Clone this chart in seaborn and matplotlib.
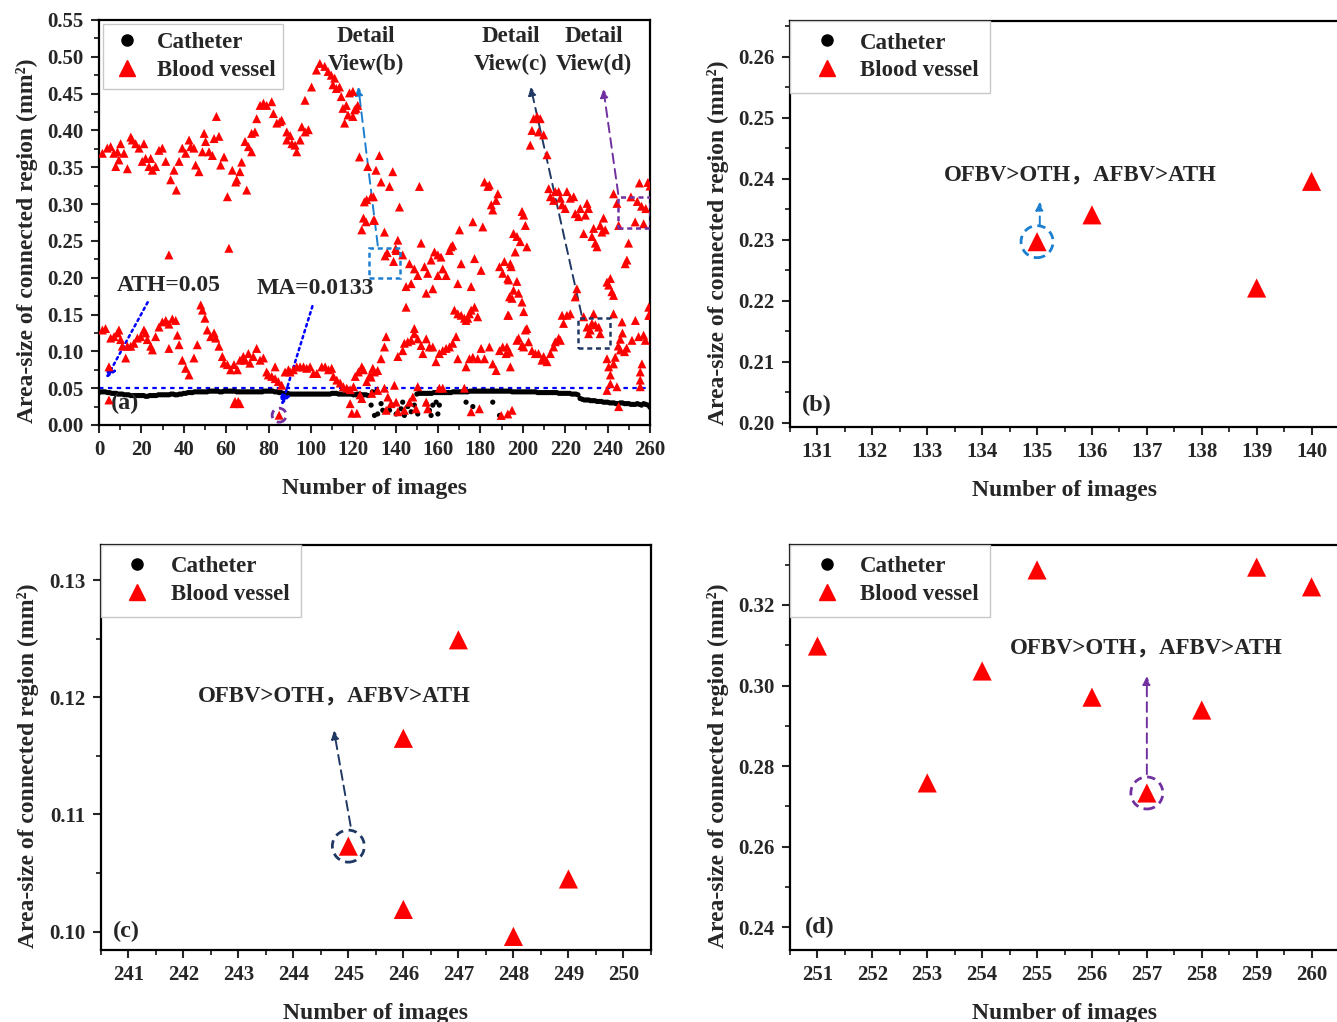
import matplotlib
matplotlib.use("Agg")
import numpy as np
import pandas as pd
import seaborn as sns
import matplotlib.pyplot as plt
from matplotlib.lines import Line2D
from matplotlib.patches import Circle, Rectangle
from matplotlib.transforms import ScaledTranslation
from matplotlib.ticker import MultipleLocator, FormatStrFormatter

# ------------------------------------------------------------------ data
# Catheter (one value per frame, panel a)
cath_frames_1 = list(range(0, 128))
cath_area_1 = [
    0.044, 0.045, 0.045, 0.045, 0.044, 0.044, 0.043, 0.043, 0.043, 0.042,
    0.042, 0.042, 0.041, 0.041, 0.041, 0.040, 0.040, 0.040, 0.040, 0.040,
    0.040, 0.040, 0.039, 0.039, 0.040, 0.040, 0.040, 0.040, 0.041, 0.041,
    0.041, 0.041, 0.041, 0.041, 0.042, 0.042, 0.041, 0.041, 0.042, 0.042,
    0.043, 0.043, 0.044, 0.044, 0.044, 0.045, 0.045, 0.045, 0.045, 0.045,
    0.045, 0.045, 0.046, 0.046, 0.046, 0.046, 0.046, 0.045, 0.045, 0.046,
    0.046, 0.046, 0.046, 0.046, 0.046, 0.045, 0.045, 0.045, 0.045, 0.045,
    0.045, 0.045, 0.045, 0.045, 0.045, 0.045, 0.045, 0.045, 0.046, 0.046,
    0.046, 0.046, 0.046, 0.045, 0.045, 0.044, 0.044, 0.043, 0.043, 0.043,
    0.042, 0.042, 0.042, 0.042, 0.042, 0.042, 0.042, 0.042, 0.042, 0.042,
    0.042, 0.042, 0.042, 0.042, 0.042, 0.042, 0.042, 0.042, 0.042, 0.042,
    0.043, 0.043, 0.043, 0.042, 0.042, 0.042, 0.042, 0.042, 0.042, 0.042,
    0.041, 0.041, 0.042, 0.042, 0.041, 0.041, 0.041, 0.040,
]
cath_frames_2 = list(range(150, 261))
cath_area_2 = [
    0.042, 0.043, 0.043, 0.043, 0.043, 0.043, 0.043, 0.043, 0.044, 0.044,
    0.044, 0.044, 0.044, 0.044, 0.044, 0.044, 0.044, 0.045, 0.045, 0.045,
    0.045, 0.045, 0.045, 0.045, 0.045, 0.046, 0.046, 0.046, 0.046, 0.046,
    0.046, 0.046, 0.046, 0.046, 0.046, 0.046, 0.046, 0.046, 0.046, 0.046,
    0.046, 0.046, 0.046, 0.046, 0.046, 0.045, 0.045, 0.045, 0.045, 0.045,
    0.045, 0.045, 0.045, 0.045, 0.045, 0.045, 0.045, 0.044, 0.044, 0.044,
    0.044, 0.044, 0.044, 0.044, 0.044, 0.044, 0.044, 0.043, 0.043, 0.043,
    0.043, 0.043, 0.043, 0.042, 0.042, 0.042, 0.041, 0.036, 0.035, 0.034,
    0.034, 0.034, 0.033, 0.033, 0.033, 0.032, 0.032, 0.032, 0.031, 0.031,
    0.031, 0.030, 0.030, 0.030, 0.029, 0.029, 0.030, 0.030, 0.029, 0.029,
    0.029, 0.028, 0.028, 0.028, 0.029, 0.028, 0.027, 0.029, 0.028, 0.027,
    0.024,
]
cath_extra = [
    (128.4, .027), (129, .045), (130, .013), (131, .046), (131.5, .015),
    (133.1, .029), (133.9, .020), (137.1, .020), (138.6, .027), (140.2, .015),
    (142.5, .022), (143.3, .031), (144.1, .013), (145.7, .025), (147.3, .018),
    (148.8, .027), (150.4, .015), (154.4, .029), (155.9, .020), (156.7, .013),
    (157.5, .027), (159.1, .031), (159.9, .015), (160.6, .027), (173.2, .031),
    (176.4, .025), (185.8, .031), (189, .013),
]

# Blood vessel regions, panel a
vessel_upper = [
    (1.6, .369), (3.9, .376), (5.5, .378), (7, .369), (7.9, .351), (8.7, .371),
    (9.4, .360), (10.2, .382), (11.8, .369), (13.4, .348), (15, .391), (15.7, .387),
    (17.3, .382), (18.9, .376), (20.4, .358), (21.2, .382), (22, .362), (23.6, .351),
    (24.4, .362), (25.2, .346), (26.7, .351), (28.3, .373), (29.9, .376), (31.5, .358),
    (33.8, .333), (35.4, .346), (36.5, .319), (37.8, .358), (39.3, .376), (40.9, .369),
    (42.5, .387), (43.3, .378), (44.8, .376), (45.6, .353), (47.2, .344), (48.8, .371),
    (49.6, .396), (50.3, .385), (51.9, .371), (53.5, .366), (54.3, .389), (55.4, .419),
    (56.6, .392), (57.4, .353), (59, .364), (60.6, .310), (62.9, .346), (64.5, .330),
    (65, .333), (66.5, .344), (67.3, .357), (69.7, .319), (68.9, .385), (70.5, .378),
    (72, .396), (72, .371), (73.6, .398), (74.4, .416), (76, .434), (77.6, .437),
    (79.1, .434), (81.5, .439), (82.3, .423), (83.9, .410), (85.4, .412), (86.2, .414),
    (88.6, .398), (88.6, .387), (90.2, .393), (91, .382), (92.5, .380), (93.3, .371),
    (94.9, .387), (95.7, .405), (97.3, .398), (98.8, .401), (97.2, .441), (100.3, .459),
    (102.6, .482), (104.2, .491), (106.5, .487), (108.1, .480), (109.6, .475),
    (111.2, .471), (110.4, .462), (112, .457), (113.5, .459), (114.3, .446),
    (115.1, .430), (116.7, .434), (117.5, .421), (118.2, .451), (119.8, .453),
    (115.9, .410), (120.6, .428), (121.3, .430), (119.8, .419), (122.1, .434),
    (122.9, .364), (126.8, .351), (128.4, .310), (132.3, .366), (130.7, .346),
    (133.1, .330), (125.2, .303), (126, .276), (130, .278), (124, .265), (124.8, .281),
    (126.3, .306), (129.5, .310), (129.5, .278), (137.1, .324), (138.6, .344),
    (134.7, .262), (141.8, .296), (141, .251), (143.3, .231), (140.2, .237),
]
vessel_middle = [
    (151.2, .324), (146.5, .219), (148.8, .212), (150.4, .203), (147.3, .192),
    (144.9, .188), (144.9, .160), (152, .247), (153.6, .215), (155.1, .206),
    (154.4, .179), (156.7, .224), (157.5, .185), (158.3, .235), (159.9, .231),
    (161.4, .228), (159.9, .203), (162.2, .212), (163.8, .203), (165.4, .237),
    (166.1, .242), (166.9, .244), (169.3, .192), (170.1, .265), (170.9, .219),
    (175.6, .188), (176.4, .276), (177.2, .226), (180.3, .210), (181.1, .269),
    (181.9, .330), (183.5, .324), (184.2, .326), (185.1, .299), (185.8, .292),
    (187.4, .305), (188.2, .314), (189, .215), (190.5, .206), (191.3, .222),
    (192.9, .199), (193.7, .174), (192.9, .149), (194.5, .215), (167.7, .156),
    (169.3, .151), (170.9, .149), (172.4, .145), (174, .145), (174.8, .151),
    (175.6, .156), (177.2, .160), (178.7, .147), (173.2, .142), (199.6, .290),
    (200.4, .285), (201.2, .271), (195.6, .260), (197.2, .256), (198.8, .249),
    (201.9, .242), (196.4, .235), (194.1, .219), (193.3, .197), (197.2, .195),
    (195.6, .183), (198, .179), (194.9, .172), (199.6, .167), (200.4, .154),
    (193.3, .149), (203.5, .380), (204.3, .400), (205.1, .416), (206.7, .419),
    (208.2, .416), (207.4, .398), (209.8, .394), (211.4, .367), (212.2, .321),
    (213, .310), (214.5, .305), (215.3, .317), (216.9, .317), (217.7, .308),
    (218.5, .299), (220, .294), (220.8, .317), (222.4, .308), (224, .310),
    (224.7, .287), (226.3, .283), (227.1, .294), (229.5, .285), (230.3, .301),
    (231, .294), (228.7, .260), (232.6, .256), (233.4, .267), (234.2, .247),
    (235, .242), (236.5, .271), (238.1, .281), (237.3, .262), (238.9, .265),
    (242.8, .314), (244.4, .301), (245.2, .271), (249.9, .247), (248.3, .219),
    (249.1, .224), (239.7, .194), (241.3, .199), (242, .181), (242.8, .176),
    (240.5, .190), (225.5, .185), (224.7, .174), (259.4, .160), (260, .149),
]
vessel_lower = [
    (1.6, .129), (3.1, .131), (4.7, .079), (5.5, .118), (7.1, .120), (8.7, .125),
    (9.4, .129), (10.2, .116), (11, .107), (12.6, .091), (13.4, .107), (15, .107),
    (16.5, .111), (18.1, .118), (19.7, .120), (21.2, .129), (22, .125), (22.8, .116),
    (24.4, .107), (25.2, .102), (26.7, .120), (28.3, .133), (29.9, .140), (31.5, .142),
    (33, .137), (34.6, .144), (36.2, .142), (37, .122), (37.8, .109), (33, .104),
    (39.3, .088), (40.9, .077), (42.5, .068), (44.8, .091), (46.4, .109), (48, .163),
    (48.8, .156), (50, .145), (51.1, .129), (52.7, .120), (54.3, .125), (55.1, .118),
    (56.6, .107), (58.2, .093), (59, .084), (60.6, .082), (62.1, .075), (63.7, .082),
    (65.3, .075), (66.5, .088), (68.1, .093), (68.9, .088), (70.5, .097), (71.2, .084),
    (72.8, .093), (74.4, .104), (76, .088), (77.6, .091), (79.1, .072), (79.9, .068),
    (81.5, .066), (83.1, .063), (84.6, .059), (83.1, .079), (86.2, .054), (87.8, .072),
    (89.4, .075), (90.2, .072), (91.7, .075), (93.3, .079), (94.9, .079), (96.5, .079),
    (98, .077), (99.6, .079), (101.2, .070), (102.8, .070), (105.1, .079), (106.7, .079),
    (108.3, .075), (109.8, .077), (110.6, .066), (112.2, .061), (113.8, .057),
    (115.3, .052), (116.9, .050), (118.5, .048), (120.1, .052), (120.9, .066),
    (122.4, .072), (124, .079), (124.8, .075), (126.3, .059), (127.9, .068),
    (129.2, .077), (128.4, .065), (130, .072), (131.5, .074), (133.1, .090),
    (134.7, .106), (135.5, .120), (141, .093), (143.3, .101), (144.1, .111),
    (145.7, .113), (147.3, .115), (148.8, .131), (148.8, .124), (150.4, .117),
    (152, .108), (152.8, .097), (154.4, .117), (155.9, .106), (157.5, .106),
    (159, .086), (160.6, .097), (162.2, .101), (163.8, .104), (165.4, .106),
    (166.9, .111), (168.5, .120), (169.3, .090), (173.2, .079), (174.8, .090),
    (176.4, .092), (178.7, .090), (180.3, .104), (181.9, .090), (184.2, .106),
    (185.8, .083), (187.4, .074), (189, .101), (190.5, .106), (192.1, .097),
    (193.7, .099), (192.5, .106), (194.1, .079), (197.2, .115), (198, .118),
    (199.6, .108), (200.4, .106), (201.2, .129), (201.9, .131), (202.7, .113),
    (204.3, .101), (205.9, .097), (207.4, .097), (209, .088), (209.8, .093),
    (211.4, .086), (213, .097), (214.5, .106), (215.3, .113), (216.9, .118),
    (217.7, .115), (218.5, .149), (219.2, .138), (220.8, .149), (222.4, .151),
    (228.7, .147), (230.3, .133), (231.8, .129), (233.4, .151), (234.2, .136),
    (235.8, .133), (236.5, .124), (231, .124), (232.6, .138), (239.7, .090),
    (240.5, .079), (241.3, .068), (241.3, .056), (243.6, .092), (242.8, .083),
    (242.8, .151), (246.8, .140), (253.1, .142), (254.6, .120), (257, .122),
    (257.8, .115), (259.4, .149), (256.2, .083), (255.4, .072), (251.5, .115),
]
vessel_outliers = [
    (33, .231), (61.3, .240), (4.7, .034), (63.7, .029), (64.2, .032), (65.7, .032),
    (66.5, .029), (85, .0133), (118.5, .029), (119.3, .016), (121.7, .016),
    (123.2, .041), (124, .036), (128.7, .043), (131.5, .047), (134.7, .050),
    (136.3, .038), (137.8, .029), (140.2, .031), (135.5, .020), (141, .018),
    (144.1, .020), (146.5, .031), (148.1, .038), (149.6, .022), (150.4, .052),
    (154.4, .031), (155.1, .022), (139.4, .054), (160.6, .050), (162.2, .050),
    (172.4, .050), (175.6, .018), (179.5, .022), (189.8, .013), (192.9, .015),
    (194.9, .020), (239.7, .047), (244.4, .052), (245.2, .025), (255.4, .052),
    (255.4, .061),
]

# Detail views (b), (c), (d)
detail_b_x = [135, 136, 139, 140]
detail_b_y = [0.2297, 0.2341, 0.2221, 0.2396]
detail_c_x = [245, 246, 246, 247, 248, 249]
detail_c_y = [0.1073, 0.1165, 0.1019, 0.1249, 0.0996, 0.1045]
detail_d_x = [251, 253, 254, 255, 256, 257, 258, 259, 260]
detail_d_y = [0.3098, 0.2758, 0.3036, 0.3287, 0.2971, 0.2733, 0.2939, 0.3294, 0.3245]

ATH = 0.05
MA = 0.0133

# ------------------------------------------------------------------ style
sns.set_style("ticks")
plt.rcParams["font.family"] = ["Liberation Serif", "Noto Sans CJK SC", "DejaVu Sans"]
plt.rcParams["font.weight"] = "bold"
plt.rcParams["axes.labelweight"] = "bold"
plt.rcParams["axes.linewidth"] = 1.6
plt.rcParams["axes.edgecolor"] = "black"

RED = "#ff0000"
fig = plt.figure(figsize=(13.37, 10.22), dpi=100)
W, H = 1337.0, 1022.0


def add_ax(l, t, r, b):
    return fig.add_axes([l / W, 1 - b / H, (r - l) / W, (b - t) / H])


ax_a = add_ax(99, 20, 650, 425)
ax_b = add_ax(790, 21, 1339, 427)
ax_c = add_ax(100.7, 545, 651, 950)
ax_d = add_ax(790, 545, 1339, 950)

# ------------------------------------------------------------------ panel a
cath_df = pd.DataFrame({
    "frame": cath_frames_1 + cath_frames_2 + [p[0] for p in cath_extra],
    "area": cath_area_1 + cath_area_2 + [p[1] for p in cath_extra],
})
all_vessel = vessel_upper + vessel_middle + vessel_lower + vessel_outliers
vessel_df = pd.DataFrame({
    "frame": [p[0] for p in all_vessel] + detail_b_x + detail_c_x + detail_d_x,
    "area": [p[1] for p in all_vessel] + detail_b_y + detail_c_y + detail_d_y,
})

sns.scatterplot(data=cath_df, x="frame", y="area", ax=ax_a, color="black",
                marker="o", s=14, edgecolor="none", legend=False, zorder=3)
sns.scatterplot(data=vessel_df, x="frame", y="area", ax=ax_a, color=RED,
                marker="^", s=42, edgecolor="none", legend=False, zorder=4)

ax_a.axhline(ATH, color="#0000ff", ls=(0, (2, 2)), lw=1.6, zorder=2)
ax_a.set_xlim(0, 260)
ax_a.set_ylim(0, 0.55)
ax_a.xaxis.set_major_locator(MultipleLocator(20))
ax_a.xaxis.set_minor_locator(MultipleLocator(10))
ax_a.yaxis.set_major_locator(MultipleLocator(0.05))
ax_a.yaxis.set_minor_locator(MultipleLocator(0.025))
ax_a.yaxis.set_major_formatter(FormatStrFormatter("%.2f"))

ax_a.text(8.5, 0.190, "ATH=0.05", fontsize=17, va="center", ha="left")
ax_a.annotate("", xy=(2.8, 0.060), xytext=(23.6, 0.170),
              arrowprops=dict(arrowstyle="-|>", ls=(0, (1, 1.5)), color="#0000ff",
                              lw=1.8, mutation_scale=14))
ax_a.text(74.6, 0.185, "MA=0.0133", fontsize=17, va="center", ha="left")
ax_a.annotate("", xy=(85.8, 0.023), xytext=(101.1, 0.165),
              arrowprops=dict(arrowstyle="-|>", ls=(0, (1, 1.5)), color="#0000ff",
                              lw=1.8, mutation_scale=14))
ax_a.text(5.5, 0.029, "(a)", fontsize=17.5, va="center", ha="left")

for cx, label in [(126, "(b)"), (194.4, "(c)"), (233.6, "(d)")]:
    ax_a.text(cx, 0.528, "Detail", fontsize=16.5, ha="center", va="center")
    ax_a.text(cx, 0.490, "View" + label, fontsize=16.5, ha="center", va="center")

# detail boxes and arrows
boxes = [
    ((127.4, 0.200), 14.6, 0.040, "#1a7fd0", (131.7, 0.240), (122.2, 0.463)),
    ((226.0, 0.105), 15.2, 0.040, "#1f3864", (228.0, 0.146), (203.4, 0.463)),
    ((245.0, 0.268), 15.0, 0.042, "#7030a0", (245.2, 0.310), (237.8, 0.460)),
]
for (x0, y0), w, h, col, tail, head in boxes:
    ax_a.add_patch(Rectangle((x0, y0), w, h, fill=False, ec=col, lw=1.8,
                             ls=(0, (2, 1.5)), zorder=5))
    ax_a.annotate("", xy=head, xytext=tail,
                  arrowprops=dict(arrowstyle="-|>", ls=(0, (5, 3)), color=col,
                                  lw=1.4, mutation_scale=12))


def dashed_circle(ax, x, y, r_px, color):
    trans = fig.dpi_scale_trans + ScaledTranslation(x, y, ax.transData)
    c = Circle((0, 0), r_px / fig.dpi, transform=trans, fill=False,
               ls=(0, (3, 2)), ec=color, lw=2, zorder=6)
    ax.add_patch(c)


dashed_circle(ax_a, 85, MA, 7, "#7030a0")

# ------------------------------------------------------------------ panels b, c, d
def detail_panel(ax, xs, ys, xlim, ylim, ymaj, ymin_, text_xy, circ_idx,
                 col, arrow, tag_xy, tag):
    df = pd.DataFrame({"frame": xs, "area": ys})
    sns.scatterplot(data=df, x="frame", y="area", ax=ax, color=RED, marker="^",
                    s=190, edgecolor="none", legend=False, zorder=4)
    ax.set_xlim(*xlim)
    ax.set_ylim(*ylim)
    ax.xaxis.set_major_locator(MultipleLocator(1))
    ax.xaxis.set_minor_locator(MultipleLocator(0.5))
    ax.yaxis.set_major_locator(MultipleLocator(ymaj))
    ax.yaxis.set_minor_locator(MultipleLocator(ymin_))
    ax.yaxis.set_major_formatter(FormatStrFormatter("%.2f"))
    ax.xaxis.set_major_formatter(FormatStrFormatter("%d"))
    ax.text(text_xy[0], text_xy[1], "OFBV>OTH，AFBV>ATH", fontsize=16.5,
            ha="left", va="center")
    dashed_circle(ax, xs[circ_idx], ys[circ_idx], 16, col)
    ax.annotate("", xy=arrow[1], xytext=arrow[0],
                arrowprops=dict(arrowstyle="-|>", ls=(0, (5, 3)), color=col,
                                lw=1.4, mutation_scale=12))
    ax.text(tag_xy[0], tag_xy[1], tag, fontsize=17.5, ha="left", va="center")


detail_panel(ax_b, detail_b_x, detail_b_y, (130.5, 140.5), (0.1993, 0.2659),
             0.01, 0.005, (133.3, 0.2407), 0, "#1a7fd0",
             ((135.05, 0.2318), (135.05, 0.2367)), (130.72, 0.2028), "(b)")
detail_panel(ax_c, detail_c_x, detail_c_y, (240.5, 250.5), (0.09844, 0.13299),
             0.01, 0.005, (242.26, 0.1201), 0, "#1f3864",
             ((245.05, 0.1088), (244.73, 0.1174)), (240.72, 0.1000), "(c)")
detail_panel(ax_d, detail_d_x, detail_d_y, (250.5, 260.5), (0.2343, 0.3349),
             0.02, 0.01, (254.5, 0.3093), 5, "#7030a0",
             ((257.0, 0.2773), (257.0, 0.3030)), (250.77, 0.2400), "(d)")

# ------------------------------------------------------------------ common axis styling
handles = [
    Line2D([], [], marker="o", color="black", ls="", markersize=8),
    Line2D([], [], marker="^", color=RED, ls="", markersize=11),
]
labels = ["Catheter", "Blood vessel"]

for ax in (ax_a, ax_b, ax_c, ax_d):
    ax.tick_params(which="major", direction="out", length=6, width=1.5,
                   labelsize=15, pad=5)
    ax.tick_params(which="minor", direction="out", length=3.5, width=1.3)
    for s in ax.spines.values():
        s.set_visible(True)
        s.set_linewidth(1.6)
        s.set_color("black")
    ax.set_xlabel("Number of images", fontsize=17, labelpad=13)
    ax.set_ylabel("Area-size of connected region (mm²)", fontsize=17, labelpad=7)
    ax.yaxis.label.set_y(0.455)
    for lab in ax.get_xticklabels() + ax.get_yticklabels():
        lab.set_fontweight("bold")

leg_common = dict(frameon=True, fancybox=False, framealpha=1, edgecolor="#c8c8c8",
                  fontsize=16.5, loc="upper left", borderaxespad=0,
                  labelspacing=0.3)
ax_a.legend(handles, labels, bbox_to_anchor=(0.007, 0.99), handlelength=1.4,
            handletextpad=0.6, borderpad=0.35, **leg_common)
for ax in (ax_b, ax_c, ax_d):
    ax.legend(handles, labels, bbox_to_anchor=(0.0, 1.0), handlelength=2.2,
              handletextpad=0.35, borderpad=0.5, **leg_common)
for ax in (ax_a, ax_b, ax_c, ax_d):
    ax.get_legend().get_frame().set_linewidth(1.0)

fig.savefig("out.png", dpi=100, facecolor="white")
